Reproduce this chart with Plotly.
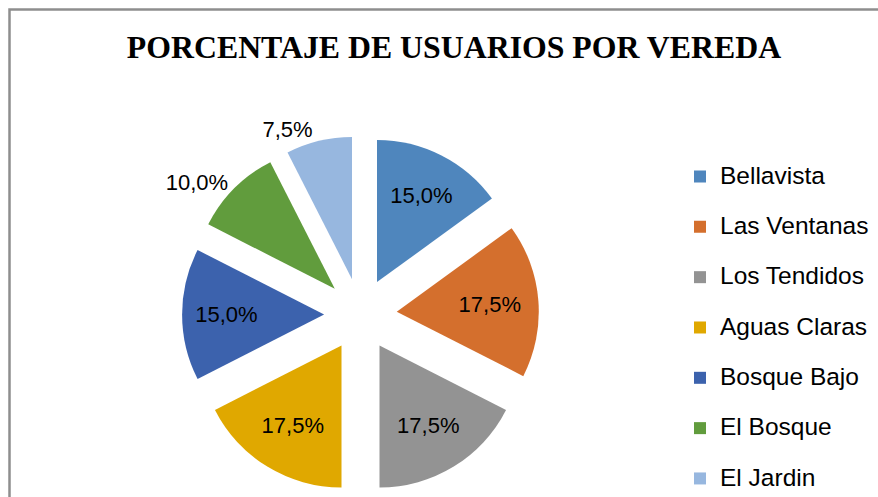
import plotly.graph_objects as go

categories = ["Bellavista", "Las Ventanas", "Los Tendidos", "Aguas Claras",
              "Bosque Bajo", "El Bosque", "El Jardin"]
values = [15.0, 17.5, 17.5, 17.5, 15.0, 10.0, 7.5]
colors = ["#4F86BD", "#D46F2D", "#939393", "#E0A800",
          "#3C62AD", "#619C3D", "#97B7DF"]
text_positions = ["inside", "inside", "inside", "inside", "inside", "outside", "outside"]
title_text = "PORCENTAJE DE USUARIOS POR VEREDA"

W, H = 878, 497

# legend labels: larger span text inside a two-line entry to get the wide row spacing
legend_labels = ['<span style="font-size:24.5px">%s</span><br> ' % c for c in categories]

fig = go.Figure(go.Pie(
    labels=legend_labels,
    values=values,
    sort=False,
    direction="clockwise",
    rotation=0,
    pull=0.256,
    marker=dict(colors=colors, line=dict(width=0)),
    texttemplate="%{percent:.1%}",
    textposition=text_positions,
    insidetextorientation="horizontal",
    textfont=dict(family="Liberation Sans, Arial", size=22, color="black"),
    domain=dict(x=[182.1 / W, 538.9 / W], y=[1 - 492.9 / H, 1 - 136.1 / H]),
    hoverinfo="label+percent",
))

fig.update_layout(
    width=W, height=H,
    margin=dict(l=0, r=0, t=0, b=0, autoexpand=False),
    paper_bgcolor="white",
    plot_bgcolor="white",
    separators=",.",
    title=dict(
        text="<b>%s</b>" % title_text,
        font=dict(family="Liberation Serif, Times New Roman", size=31.8, color="black"),
        x=454 / W, xanchor="center",
        y=1 - 47 / H, yanchor="middle",
        xref="paper", yref="paper",
    ),
    showlegend=True,
    legend=dict(
        x=680 / W, xanchor="left",
        y=1 - 158.2 / H, yanchor="top",
        valign="top",
        font=dict(family="Liberation Sans, Arial", size=18.2, color="black"),
        bgcolor="rgba(0,0,0,0)",
        borderwidth=0,
        traceorder="normal",
    ),
    shapes=[dict(
        type="rect", xref="paper", yref="paper",
        x0=9.5 / W, x1=1.05, y0=-0.05, y1=1 - 9.5 / H,
        line=dict(color="#8E8E8E", width=2.5),
        fillcolor="rgba(0,0,0,0)",
        layer="above",
    )],
)

fig.write_html(
    "out.html",
    config={"displayModeBar": False},
    post_script="document.body.style.margin='0';document.body.style.overflow='hidden';",
)
